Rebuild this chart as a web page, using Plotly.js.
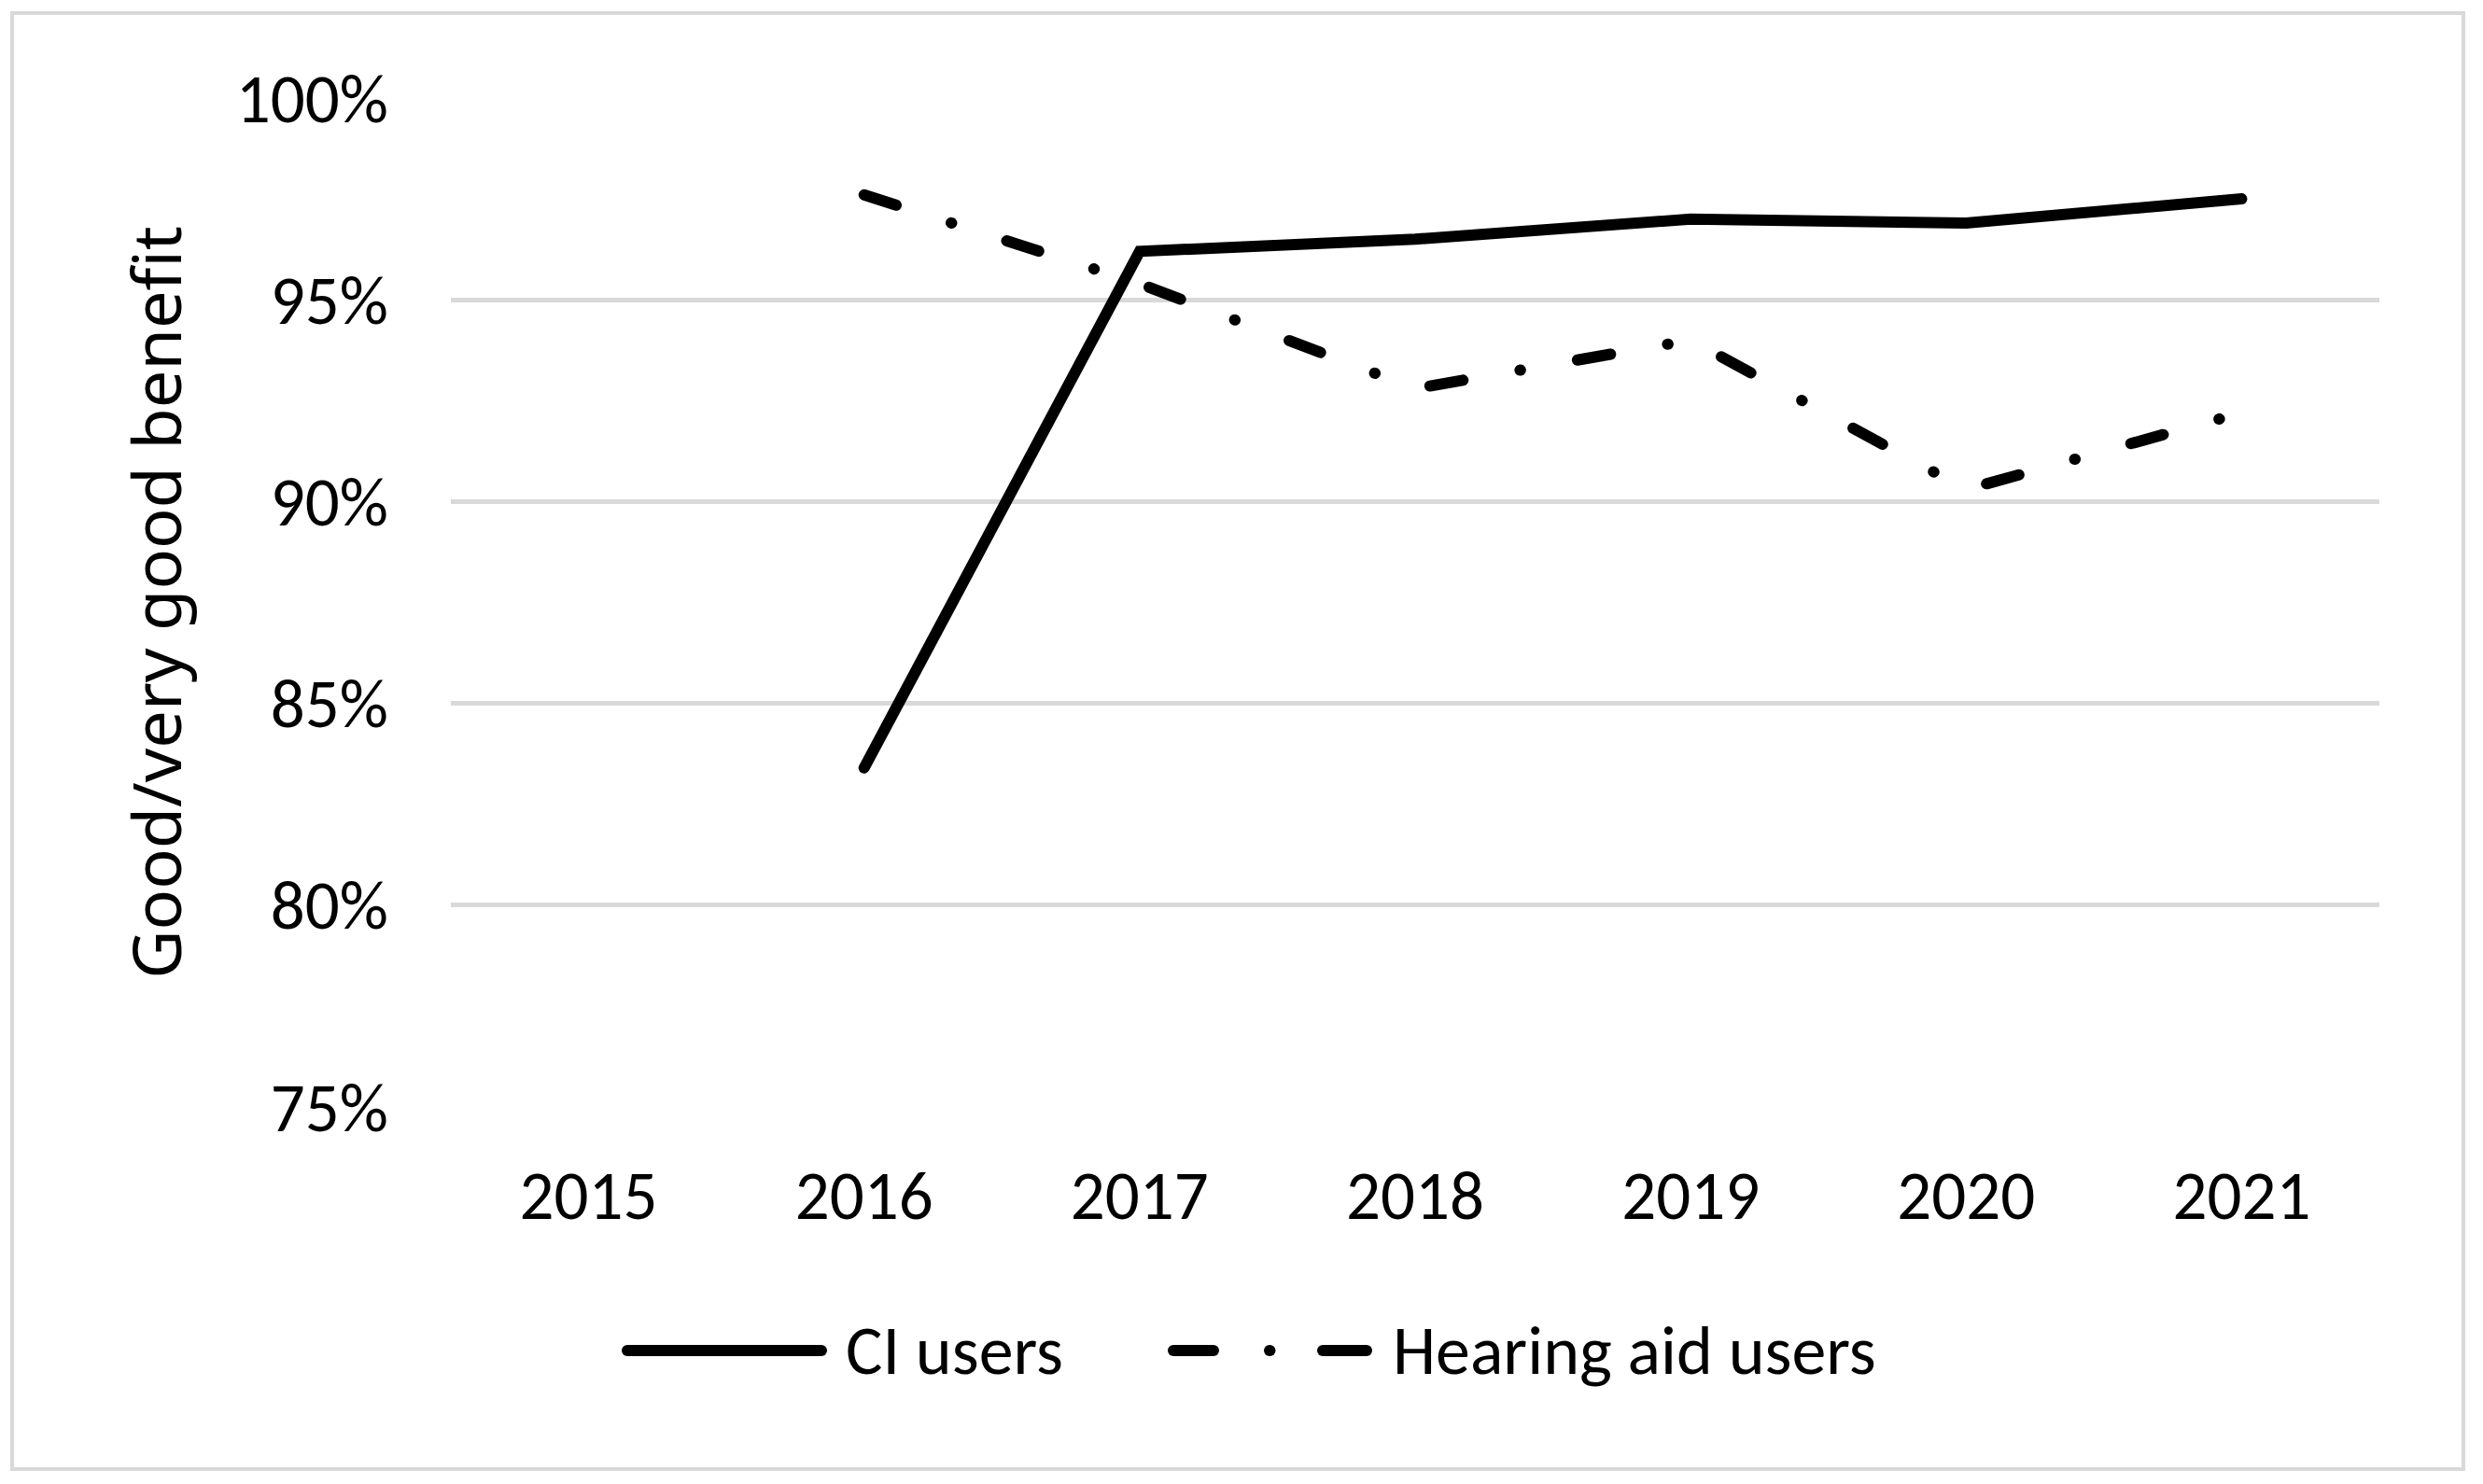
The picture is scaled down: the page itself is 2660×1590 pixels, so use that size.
<!DOCTYPE html>
<html><head><meta charset="utf-8">
<script src="https://cdn.plot.ly/plotly-3.0.1.min.js"></script>
<style>
html,body{margin:0;padding:0;background:#fff;}
#chart{width:2660px;height:1590px;}
.js-line{stroke-linecap:round;}
.shapelayer path{stroke-linecap:round;}
</style></head><body><div id="chart"></div>
<script>
const years = ['2015','2016','2017','2018','2019','2020','2021'];
const ciYears = ['2016','2017','2018','2019','2020','2021'];
const ciUsers = [83.4, 96.2, 96.5, 97.0, 96.9, 97.5];
const haYears = ['2016','2017','2018','2019','2020','2021'];
const hearingAidUsers = [97.6, 95.4, 92.8, 94.0, 90.3, 92.2];
const yTicks = [75, 80, 85, 90, 95, 100];
const yTickLabels = ['75%', '80%', '85%', '90%', '95%', '100%'];
const seriesNames = ['CI users', 'Hearing aid users'];
const yTitle = 'Good/very good benefit';

const tickFont = {family: "Carlito, Calibri, 'Open Sans', sans-serif", size: 73, color: '#000'};
const legendFont = {family: "Carlito, Calibri, 'Open Sans', sans-serif", size: 74, color: '#000'};
const titleFont = {family: "'Noto Sans', 'Open Sans', sans-serif", size: 72, color: '#000'};

const W = 2660, H = 1590, L = 483, R = 2549, T = 105, B = 1186;
const px = x => (x - L) / (R - L);
const py = y => (B - y) / (B - T);

const traces = [
  {x: ciYears, y: ciUsers, name: seriesNames[0], type: 'scatter', mode: 'lines',
   line: {color: '#000', width: 12}},
  {x: haYears, y: hearingAidUsers, name: seriesNames[1], type: 'scatter', mode: 'lines',
   line: {color: '#000', width: 12, dash: '36px,62px,0.5px,62px'}}
];

const legY = py(1447);
const shapes = [
  {type: 'rect', xref: 'paper', yref: 'paper', x0: px(13), x1: px(2639), y0: py(1574), y1: py(14),
   line: {color: '#d9d9d9', width: 4}, fillcolor: 'rgba(0,0,0,0)', layer: 'below'},
  {type: 'line', xref: 'paper', yref: 'paper', x0: px(672), x1: px(880), y0: legY, y1: legY,
   line: {color: '#000', width: 12}},
  {type: 'line', xref: 'paper', yref: 'paper', x0: px(1257), x1: px(1300), y0: legY, y1: legY,
   line: {color: '#000', width: 12}},
  {type: 'line', xref: 'paper', yref: 'paper', x0: px(1360), x1: px(1360.5), y0: legY, y1: legY,
   line: {color: '#000', width: 12}},
  {type: 'line', xref: 'paper', yref: 'paper', x0: px(1417), x1: px(1464), y0: legY, y1: legY,
   line: {color: '#000', width: 12}}
];

const annotations = [
  {xref: 'paper', yref: 'paper', x: px(904), y: legY, xanchor: 'left', yanchor: 'middle',
   text: seriesNames[0], showarrow: false, font: legendFont},
  {xref: 'paper', yref: 'paper', x: px(1490), y: legY, xanchor: 'left', yanchor: 'middle',
   text: seriesNames[1], showarrow: false, font: legendFont}
];

const layout = {
  width: W, height: H,
  margin: {l: L, r: W - R, t: T, b: H - B, pad: 0},
  paper_bgcolor: '#fff', plot_bgcolor: '#fff',
  showlegend: false,
  xaxis: {type: 'category', categoryorder: 'array', categoryarray: years, range: [-0.5, 6.5],
    tickvals: years, ticktext: years, showgrid: false, showline: false, zeroline: false,
    ticks: '', tickfont: tickFont, ticklabelstandoff: 46, fixedrange: true},
  yaxis: {range: [75, 100], tickvals: yTicks, ticktext: yTickLabels, showgrid: true,
    gridcolor: '#d9d9d9', gridwidth: 5, zeroline: false, showline: false, ticks: '',
    tickfont: tickFont, ticklabelstandoff: 66, fixedrange: true,
    title: {text: yTitle, font: titleFont, standoff: 34}},
  shapes: shapes,
  annotations: annotations
};

Plotly.newPlot('chart', traces, layout, {staticPlot: true, displayModeBar: false});
</script></body></html>
